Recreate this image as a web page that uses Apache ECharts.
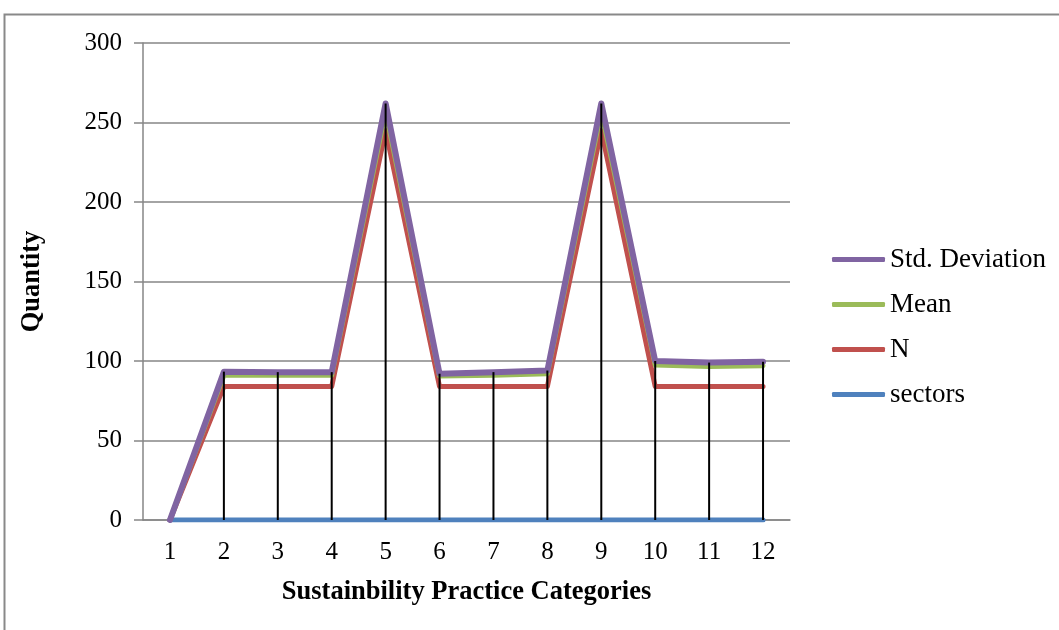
<!DOCTYPE html>
<html><head><meta charset="utf-8">
<script src="https://cdn.jsdelivr.net/npm/echarts@6/dist/echarts.min.js"></script>
<style>html,body{margin:0;padding:0;background:#fff}#c{width:1059px;height:630px}</style>
</head><body><div id="c"></div>
<script>
const categories = ['1','2','3','4','5','6','7','8','9','10','11','12'];
const sectors = [0,0,0,0,0,0,0,0,0,0,0,0];
const nValues = [0,84,84,84,245,84,84,84,245,84,84,84];
const meanValues = [0,7,7,7,12,6.5,7,8,12,13.5,12.5,13];
const sdValues = [0,2.3,2,2,5,1.5,2,2,5,2.5,2.5,2.5];
const yTicks = [0,50,100,150,200,250,300];

const totals = categories.map((_, i) => sectors[i] + nValues[i] + meanValues[i] + sdValues[i]);
const font = 'Liberation Serif';
const chart = echarts.init(document.getElementById('c'));
const lineSeries = (name, data, color, w) => ({
  name, type: 'line', stack: 'total', data, symbol: 'none',
  lineStyle: { color, width: w, cap: 'round', join: 'round' }, itemStyle: { color }
});
chart.setOption({
  animation: false,
  graphic: [{ type: 'rect', left: 2, top: 12, shape: { width: 1200, height: 800 },
    style: { fill: 'none', stroke: '#898989', lineWidth: 2 }, z: -1 }],
  grid: { left: 143, right: 269, top: 43, bottom: 110 },
  legend: {
    orient: 'vertical', left: 827, top: 241, itemGap: 18, icon: 'roundRect',
    itemWidth: 53, itemHeight: 5,
    data: ['Std. Deviation', 'Mean', 'N', 'sectors'],
    textStyle: { fontFamily: font, fontSize: 27, color: '#000' }
  },
  xAxis: {
    type: 'category', data: categories, boundaryGap: true,
    name: 'Sustainbility Practice Categories', nameLocation: 'middle', nameGap: 59,
    nameTextStyle: { fontFamily: font, fontSize: 26.5, fontWeight: 'bold', color: '#000' },
    axisLine: { lineStyle: { color: '#868686', width: 1.5 } },
    axisTick: { show: false },
    axisLabel: { fontFamily: font, fontSize: 25, color: '#000', margin: 20 }
  },
  yAxis: {
    type: 'value', min: 0, max: 300, interval: 50,
    name: 'Quantity', nameLocation: 'middle', nameGap: 97, nameRotate: 90,
    nameTextStyle: { fontFamily: font, fontSize: 26.5, fontWeight: 'bold', color: '#000' },
    axisLine: { show: true, lineStyle: { color: '#868686', width: 1.5 } },
    axisTick: { show: true, length: 9, lineStyle: { color: '#868686', width: 1.5 } },
    axisLabel: { fontFamily: font, fontSize: 25, color: '#000', margin: 21,
      formatter: v => yTicks.includes(v) ? String(v) : '' },
    splitLine: { lineStyle: { color: '#868686', width: 1.5 } }
  },
  series: [
    lineSeries('sectors', sectors, '#4F81BD', 5),
    lineSeries('N', nValues, '#C0504D', 5),
    lineSeries('Mean', meanValues, '#9BBB59', 5),
    lineSeries('Std. Deviation', sdValues, '#8064A2', 6),
    {
      type: 'custom', name: 'drop', z: 5, silent: true,
      data: totals.map((t, i) => [i, t]),
      renderItem: (params, api) => {
        const top = api.coord([api.value(0), api.value(1)]);
        const bot = api.coord([api.value(0), 0]);
        return { type: 'line', shape: { x1: top[0], y1: top[1], x2: bot[0], y2: bot[1] },
          style: { stroke: '#000', lineWidth: 2 } };
      }
    }
  ]
});
</script></body></html>
